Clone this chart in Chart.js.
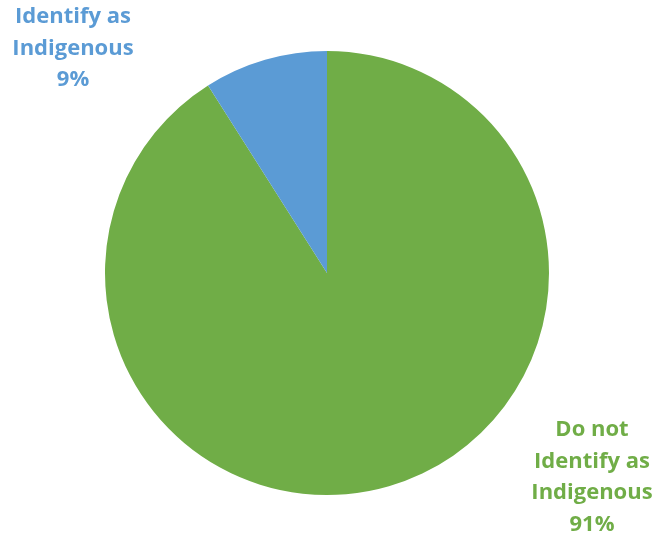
<!DOCTYPE html>
<html>
<head>
<meta charset="utf-8">
<script src="https://cdn.jsdelivr.net/npm/chart.js@4"></script>
<style>
  html, body { margin: 0; padding: 0; background: #fff; }
  #wrap { width: 662px; height: 540px; position: relative; }
</style>
</head>
<body>
<div id="wrap"><canvas id="my-chart"></canvas></div>
<script>
const categories = ['Do not Identify as Indigenous', 'Identify as Indigenous'];
const values = [91, 9];
const sliceColors = ['#70AD47', '#5B9BD5'];
// label text, split into lines as in the picture
const labelLines = [
    ['Do not', 'Identify as', 'Indigenous', '91%'],
    ['Identify as', 'Indigenous', '9%']
];

// draws the two outside labels at the spots the original chart used
const outsideLabels = {
    id: 'outsideLabels',
    afterDraw(chart) {
        const ctx = chart.ctx;
        const anchors = [
            { x: 592, y: 430 },
            { x: 73, y: 17 }
        ];
        ctx.save();
        ctx.font = 'bold 22px "Open Sans"';
        ctx.textAlign = 'center';
        ctx.textBaseline = 'middle';
        labelLines.forEach((lines, i) => {
            ctx.fillStyle = sliceColors[i];
            lines.forEach((line, j) => {
                ctx.fillText(line, anchors[i].x, anchors[i].y + j * 31.5);
            });
        });
        ctx.restore();
    }
};

const ctx = document.getElementById('my-chart').getContext('2d');
const myChartPie = new Chart(ctx, {
    type: 'pie',
    data: {
        labels: categories,
        datasets: [{
            data: values,
            backgroundColor: sliceColors,
            borderWidth: 0
        }]
    },
    options: {
        responsive: true,
        maintainAspectRatio: false,
        animation: false,
        layout: {
            padding: { left: 105, right: 113, top: 51, bottom: 45 }
        },
        plugins: {
            legend: { display: false },
            tooltip: { enabled: false }
        }
    },
    plugins: [outsideLabels]
});
</script>
</body>
</html>
